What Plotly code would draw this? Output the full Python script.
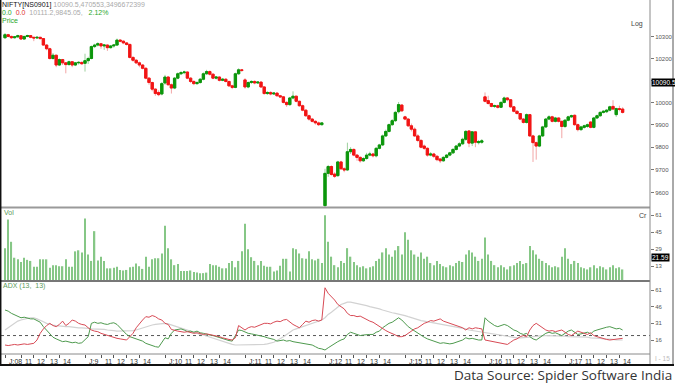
import numpy as np
import plotly.graph_objects as go

# ---------------- data ----------------
day_labels = ["J:08", "J:9", "J:10", "J:11", "J:12", "J:15", "J:16", "J:17"]
hour_labels = ["11", "12", "13", "14"]
hour_bar_offsets = [5, 9, 13, 17]
bars_per_day = 25

opens = [
    [10296, 10310, 10302, 10296, 10300, 10305, 10290, 10302, 10306, 10298, 10295, 10298, 10292, 10262, 10245, 10200, 10215, 10170, 10195, 10180, 10172, 10185, 10170, 10180, 10182],
    [10178, 10190, 10200, 10255, 10262, 10268, 10258, 10262, 10250, 10258, 10262, 10285, 10280, 10272, 10265, 10205, 10192, 10180, 10170, 10155, 10110, 10090, 10060, 10045, 10038],
    [10088, 10115, 10080, 10065, 10110, 10130, 10135, 10138, 10110, 10095, 10085, 10090, 10105, 10130, 10140, 10128, 10110, 10115, 10100, 10105, 10095, 10075, 10068, 10130, 10148],
    [10102, 10070, 10090, 10095, 10088, 10092, 10070, 10040, 10045, 10038, 10042, 10030, 10025, 10000, 9990, 10020, 10028, 10005, 9985, 9965, 9940, 9925, 9915, 9908, 9900],
    [9545, 9685, 9715, 9682, 9675, 9735, 9705, 9700, 9780, 9790, 9765, 9755, 9740, 9750, 9765, 9770, 9762, 9795, 9810, 9850, 9870, 9900, 9918, 9958, 9988],
    [9935, 9925, 9895, 9880, 9850, 9830, 9805, 9795, 9765, 9770, 9760, 9748, 9740, 9755, 9765, 9775, 9790, 9805, 9815, 9835, 9872, 9818, 9868, 9820, 9822],
    [10025, 10008, 9995, 9982, 9985, 9978, 10000, 10020, 10012, 9980, 9960, 9950, 9925, 9910, 9945, 9850, 9820, 9805, 9850, 9890, 9925, 9935, 9915, 9930, 9915],
    [9892, 9920, 9935, 9942, 9900, 9878, 9888, 9892, 9912, 9888, 9930, 9940, 9955, 9958, 9965, 9982, 9945, 9972, 9970],
]
highs = [
    [10318, 10314, 10306, 10304, 10310, 10306, 10305, 10310, 10308, 10300, 10302, 10300, 10294, 10266, 10250, 10225, 10218, 10200, 10198, 10184, 10190, 10188, 10184, 10188, 10186],
    [10222, 10208, 10260, 10268, 10275, 10272, 10266, 10265, 10262, 10266, 10292, 10290, 10284, 10276, 10268, 10210, 10198, 10186, 10174, 10160, 10114, 10094, 10064, 10055, 10092],
    [10125, 10120, 10086, 10115, 10136, 10142, 10144, 10140, 10115, 10100, 10096, 10110, 10136, 10148, 10145, 10132, 10120, 10118, 10110, 10110, 10098, 10080, 10135, 10155, 10152],
    [10110, 10095, 10100, 10100, 10096, 10095, 10074, 10050, 10050, 10046, 10045, 10034, 10028, 10005, 10025, 10050, 10030, 10008, 9990, 9968, 9945, 9930, 9920, 9914, 9912],
    [9705, 9722, 9720, 9690, 9740, 9740, 9712, 9820, 9800, 9795, 9770, 9760, 9756, 9775, 9780, 9775, 9800, 9815, 9856, 9878, 9905, 9925, 9962, 10002, 9992],
    [9940, 9930, 9905, 9888, 9858, 9835, 9812, 9800, 9778, 9775, 9764, 9752, 9760, 9770, 9780, 9796, 9810, 9822, 9842, 9876, 9876, 9872, 9872, 9832, 9836],
    [10045, 10030, 9998, 9990, 9990, 10004, 10026, 10024, 10015, 9984, 9965, 9952, 9930, 9950, 9948, 9855, 9825, 9855, 9895, 9930, 9942, 9940, 9935, 9932, 9918],
    [9925, 9940, 9945, 9946, 9905, 9895, 9900, 9905, 9915, 9935, 9945, 9960, 9965, 9970, 9985, 10010, 9976, 9985, 9978],
]
lows = [
    [10290, 10298, 10290, 10292, 10296, 10286, 10288, 10298, 10294, 10280, 10290, 10288, 10258, 10238, 10195, 10195, 10160, 10165, 10170, 10132, 10168, 10160, 10165, 10172, 10170],
    [10140, 10175, 10196, 10248, 10256, 10245, 10240, 10235, 10246, 10250, 10258, 10275, 10266, 10260, 10200, 10185, 10175, 10160, 10150, 10105, 10080, 10050, 10030, 10028, 10032],
    [10080, 10076, 10040, 10060, 10105, 10124, 10128, 10105, 10088, 10078, 10080, 10085, 10100, 10125, 10122, 10105, 10104, 10095, 10096, 10090, 10070, 10060, 10064, 10125, 10138],
    [10062, 10064, 10084, 10082, 10084, 10065, 10035, 10034, 10032, 10034, 10026, 10020, 9995, 9980, 9985, 10014, 10000, 9980, 9960, 9935, 9918, 9910, 9900, 9894, 9896],
    [9530, 9670, 9675, 9665, 9670, 9700, 9690, 9695, 9770, 9760, 9740, 9732, 9735, 9745, 9760, 9755, 9755, 9790, 9805, 9845, 9865, 9895, 9912, 9950, 9958],
    [9920, 9890, 9870, 9845, 9822, 9795, 9788, 9758, 9760, 9752, 9738, 9730, 9736, 9750, 9760, 9770, 9785, 9800, 9810, 9828, 9800, 9805, 9800, 9812, 9815],
    [10000, 9990, 9978, 9975, 9972, 9975, 9995, 10005, 9975, 9955, 9945, 9920, 9905, 9905, 9845, 9735, 9745, 9800, 9845, 9885, 9920, 9910, 9910, 9910, 9840],
    [9885, 9915, 9930, 9895, 9870, 9872, 9882, 9886, 9884, 9884, 9925, 9935, 9950, 9952, 9960, 9965, 9935, 9960, 9950],
]
closes = [
    [10310, 10302, 10296, 10300, 10305, 10290, 10302, 10306, 10298, 10295, 10298, 10292, 10262, 10245, 10200, 10215, 10170, 10195, 10180, 10172, 10185, 10170, 10180, 10182, 10176],
    [10190, 10200, 10255, 10262, 10268, 10258, 10262, 10250, 10258, 10262, 10285, 10280, 10272, 10265, 10205, 10192, 10180, 10170, 10155, 10110, 10090, 10060, 10040, 10035, 10085],
    [10115, 10080, 10065, 10110, 10130, 10135, 10138, 10110, 10095, 10085, 10090, 10105, 10130, 10140, 10128, 10110, 10115, 10100, 10105, 10095, 10075, 10068, 10130, 10148, 10145],
    [10070, 10090, 10095, 10088, 10092, 10070, 10040, 10045, 10038, 10042, 10030, 10025, 10000, 9990, 10020, 10028, 10005, 9985, 9965, 9940, 9925, 9915, 9908, 9900, 9908],
    [9685, 9715, 9680, 9672, 9735, 9705, 9700, 9780, 9790, 9765, 9755, 9740, 9750, 9765, 9770, 9762, 9795, 9810, 9850, 9870, 9900, 9918, 9955, 9990, 9962],
    [9925, 9895, 9880, 9850, 9830, 9800, 9795, 9765, 9770, 9760, 9745, 9740, 9755, 9765, 9775, 9790, 9805, 9815, 9835, 9870, 9818, 9868, 9822, 9825, 9828],
    [10005, 9995, 9982, 9985, 9978, 10000, 10020, 10012, 9980, 9960, 9950, 9925, 9910, 9945, 9850, 9820, 9805, 9850, 9890, 9925, 9935, 9915, 9930, 9915, 9892],
    [9920, 9935, 9940, 9900, 9878, 9890, 9895, 9900, 9888, 9930, 9940, 9955, 9960, 9965, 9980, 9970, 9972, 9968, 9955],
]
volume = [
    [30, 57, 36, 21, 19.5, 17, 21, 19, 18, 12.5, 12.5, 19.5, 19.5, 19.5, 11.5, 14, 14, 13, 13, 19.5, 12.5, 12.5, 27, 28, 26],
    [58, 24, 18, 46, 18.5, 22, 18, 11, 11, 11.5, 12.5, 9.5, 9, 9.5, 12, 12.5, 15.5, 13, 10.5, 22, 12.5, 19.5, 20.5, 20.5, 25],
    [51, 30, 19.5, 14, 15, 8.5, 8.5, 8.5, 9, 7.5, 7, 6.5, 6.5, 7, 15, 14, 14, 12.5, 11, 11, 16, 18, 12, 18, 27],
    [53, 29, 21.5, 18, 14, 18, 13.5, 12.5, 12.5, 8, 9, 13.5, 20, 20, 8, 30, 29, 25, 20.5, 20, 27, 19.5, 18.5, 20, 16],
    [61, 36, 22, 14, 12, 18, 16, 30, 22, 17, 14, 12, 13, 11, 12, 13, 18, 20, 26, 30, 24, 22, 28, 32, 24],
    [45, 38, 28, 24, 22, 26, 20, 22, 16, 14, 18, 15, 13, 12, 14, 13, 16, 18, 17, 24, 28, 26, 22, 18, 20],
    [40, 24, 18, 14, 12, 14, 12, 10, 13, 14, 16, 18, 15, 16, 32, 28, 24, 20, 18, 16, 14, 12, 13, 12, 22],
    [30, 20, 15, 18, 16, 12, 11, 10, 12, 14, 11, 13, 12, 10, 12, 14, 11, 12, 10],
]
plus_di = [
    [43, 42, 40, 38.5, 37, 36, 36.5, 35.5, 35, 35, 33.5, 32, 28, 25, 22, 18.5, 17, 16, 14.5, 15, 14, 13.5, 14, 13, 13.5],
    [16, 19, 31, 32, 31, 31.5, 30.5, 30, 31, 31.5, 30, 27, 24, 21, 19, 18, 17, 15.5, 15, 13, 12, 10.5, 10, 9.5, 14],
    [18, 17, 22, 25, 25.5, 26, 25, 23.5, 24, 23, 24, 22.5, 22, 21, 20.5, 20, 19, 18, 17, 16, 15.5, 15, 20, 25, 24.5],
    [23, 22, 21.5, 21, 20.5, 20, 19, 18, 17.5, 16.5, 15, 15.5, 16, 15, 15.5, 14.5, 14, 13, 13, 12.5, 12, 11.5, 10, 8.5, 8],
    [7, 9, 11, 12.5, 14.5, 16, 17, 21, 23, 22, 21, 20, 20.5, 21, 21, 21, 23, 24, 27, 29, 31, 32, 34, 36, 34],
    [31, 28, 26, 24, 22, 20, 18.5, 17, 16, 15, 14, 13, 13.5, 13, 12.5, 13, 14, 15, 16, 18, 17, 17.5, 16.5, 16, 16],
    [36, 33, 31, 29, 28, 29, 30, 29, 27, 25, 24, 22, 21, 22, 19, 17, 16, 18, 20, 22, 23, 22, 22.5, 21.5, 20],
    [22, 24, 25, 23, 21, 21.5, 22, 23, 21.5, 24, 25, 26, 27, 27.5, 28, 27, 26, 26.5, 25],
]
minus_di = [
    [11.5, 11, 11.5, 12, 11.5, 12, 12.5, 12, 12.5, 13, 16, 22, 26, 29, 31, 29, 28, 30, 33, 29, 31, 34, 33, 31, 30],
    [29.5, 27, 25, 24, 23.5, 22, 21, 20, 19, 18.5, 17.5, 17, 16.5, 16, 19, 22, 27, 31, 34, 37, 36.5, 38, 37, 35, 34],
    [31, 30, 25.5, 24.5, 24, 23.5, 23, 23.5, 22.5, 22, 22.5, 22, 21, 21.5, 21, 20, 19.5, 19, 18, 17, 16.5, 16, 18, 29, 27],
    [25, 27, 28, 27.5, 28.5, 29.5, 31, 31, 30.5, 32, 33, 32.5, 34, 34.5, 32, 30, 28.5, 27, 30, 33, 32, 33.5, 34, 33, 34],
    [63, 58, 55, 52, 48, 46, 44, 40, 38, 38, 37, 37.5, 36, 34, 33, 32, 30, 28.5, 26, 24.5, 23, 22, 20.5, 19, 19],
    [20, 22, 24, 26, 27, 29, 31, 32, 33.5, 33, 34, 35, 33, 32, 31, 30, 29, 28, 27, 25, 27, 26, 27, 26.5, 26],
    [16, 15.5, 15, 14.5, 14, 13, 12.5, 12, 14, 16, 17, 19, 20, 19, 25, 29, 31, 29, 27, 25, 24, 24.5, 23.5, 24, 25],
    [23, 21, 20, 22, 24, 23, 22, 21, 22.5, 20, 19, 18, 17, 16.5, 16, 16.5, 17, 17, 17.5],
]
adx = [
    [25, 27, 29, 31, 33, 34, 35, 35.5, 36, 36, 35, 34, 32.5, 31, 30, 29.5, 29, 28.5, 28.5, 28, 28, 27.5, 27.5, 27, 27],
    [27, 26.5, 26, 26, 26, 25.5, 25.5, 25, 25, 24.5, 24, 24, 24, 24, 24, 24.5, 25, 26, 27, 28, 29, 29.5, 30, 30.5, 31],
    [31, 30.5, 29.5, 28.5, 27.5, 26.5, 26, 25, 24, 23, 22, 21, 20.5, 19.5, 18.5, 17.5, 16.5, 15.5, 14.5, 13.5, 13, 12, 11.5, 11.5, 11.5],
    [11.5, 11.5, 11.5, 11.5, 11.5, 12, 12, 12.5, 13, 14, 15.5, 17, 19, 21, 23, 25, 26, 27, 28, 29, 30, 31, 32, 33, 34],
    [36, 39, 41, 43.5, 46, 48, 49, 50, 50, 49.5, 49, 48.5, 48, 47, 46, 45.5, 45, 44, 43, 42, 41, 40.5, 40, 39.5, 39],
    [38, 37, 36, 35, 34, 33.5, 33, 32.5, 32, 31.5, 31, 30.5, 30, 29.5, 29, 28.5, 28, 27, 26.5, 26, 25, 24.5, 24, 23.5, 23],
    [22.5, 22, 21.5, 21, 20.5, 20, 19.5, 19, 18.5, 18.5, 18, 18, 18, 18, 18.5, 19, 19.5, 20, 20, 20, 20, 20, 20, 20, 19.5],
    [19.5, 19, 19, 19, 19, 18.5, 18.5, 18.5, 18, 18, 17.5, 17.5, 17, 17, 16.5, 16.5, 16, 16, 16],
]
adx_level = 20
price_ticks = [9600, 9700, 9800, 9900, 10000, 10100, 10200, 10300]
price_tick_text = ["9600", "9700", "9800", "9900", "10000", "", "10200", "10300"]
vol_ticks = [13, 29, 45, 61]
adx_ticks = [16, 31, 46, 61]
last_price_label = "10090.5"
last_vol_label = "21.59"


def flat(lst):
    out = []
    for d in lst:
        out.extend(d)
    return out


o = np.array(flat(opens), float)
h = np.array(flat(highs), float)
l = np.array(flat(lows), float)
c = np.array(flat(closes), float)
v = flat(volume)
pdi = flat(plus_di)
mdi = flat(minus_di)
ax = flat(adx)
n = len(c)
idx = list(range(n))

tickvals, ticktext = [], []
for d, lab in enumerate(day_labels):
    base = d * bars_per_day
    tickvals.append(base)
    ticktext.append(lab)
    for off, hl in zip(hour_bar_offsets, hour_labels):
        tickvals.append(base + off)
        ticktext.append(hl)

# ---------------- figure ----------------
W, H = 675, 386
ML, MR, MT, MB = 1, 25, 1, 32
PW, PH = W - ML - MR, H - MT - MB


def px(x):
    return (x - ML) / PW


def py(y):
    return (H - MB - y) / PH


FONT = "Arial"
fig = go.Figure()

# wicks (pale) + bodies (saturated)
fig.add_trace(go.Candlestick(
    x=idx, open=o, high=h, low=l, close=c, xaxis="x", yaxis="y",
    increasing=dict(line=dict(color="#9ccf9c", width=1), fillcolor="#9ccf9c"),
    decreasing=dict(line=dict(color="#f2a6a6", width=1), fillcolor="#f2a6a6"),
    whiskerwidth=0, hoverinfo="skip", showlegend=False))
fig.add_trace(go.Candlestick(
    x=idx, open=o, high=np.maximum(o, c), low=np.minimum(o, c), close=c,
    xaxis="x", yaxis="y",
    increasing=dict(line=dict(color="#0b960b", width=1), fillcolor="#0b960b"),
    decreasing=dict(line=dict(color="#f21414", width=1), fillcolor="#f21414"),
    whiskerwidth=0, hoverinfo="skip", showlegend=False))

fig.add_trace(go.Bar(x=idx, y=v, width=0.42, marker=dict(color="#86c786", line=dict(width=0)),
                     xaxis="x", yaxis="y2", showlegend=False, hoverinfo="skip"))

fig.add_trace(go.Scatter(x=idx, y=ax, mode="lines", line=dict(color="#d2d2d2", width=1.2),
                         xaxis="x", yaxis="y3", showlegend=False, hoverinfo="skip"))
fig.add_trace(go.Scatter(x=idx, y=pdi, mode="lines", line=dict(color="#4e9a4e", width=1),
                         xaxis="x", yaxis="y3", showlegend=False, hoverinfo="skip"))
fig.add_trace(go.Scatter(x=idx, y=mdi, mode="lines", line=dict(color="#d84a55", width=1),
                         xaxis="x", yaxis="y3", showlegend=False, hoverinfo="skip"))

ytick_common = dict(side="right", ticks="outside", ticklen=3, tickcolor="#777",
                    tickfont=dict(size=6, color="#555", family=FONT),
                    showgrid=False, zeroline=False, showline=False, fixedrange=True)

y_price_bottom = 207.5
y_vol_top, y_vol_bottom = 208, 281
y_adx_top = 282

fig.update_layout(
    width=W, height=H, autosize=False,
    margin=dict(l=ML, r=MR, t=MT, b=MB),
    paper_bgcolor="white", plot_bgcolor="white",
    boxgap=0.15, boxgroupgap=0.15,
    xaxis=dict(domain=[0, 1], anchor="y3", range=[-1.25, 201.56],
               tickvals=tickvals, ticktext=["" for _ in tickvals], ticks="outside", ticklen=3,
               tickcolor="#555", showticklabels=True,
               showgrid=False, zeroline=False, showline=False,
               rangeslider=dict(visible=False), fixedrange=True),
    yaxis=dict(domain=[py(y_price_bottom), 1], anchor="x", type="log",
               range=[np.log10(9537), np.log10(10468)],
               tickvals=price_ticks, ticktext=price_tick_text, **ytick_common),
    yaxis2=dict(domain=[py(y_vol_bottom), py(y_vol_top)], anchor="x", range=[-0.9, 67.8],
                tickvals=vol_ticks, ticktext=[str(t) for t in vol_ticks], **ytick_common),
    yaxis3=dict(domain=[0, py(y_adx_top)], anchor="x", range=[3.4, 68.2],
                tickvals=adx_ticks, ticktext=[str(t) for t in adx_ticks], **ytick_common),
)

shapes = []


def pline(x0, y0, x1, y1, color, width, dash="solid"):
    shapes.append(dict(type="line", xref="paper", yref="paper",
                       x0=px(x0), y0=py(y0), x1=px(x1), y1=py(y1),
                       line=dict(color=color, width=width, dash=dash), layer="above"))


pline(0, y_price_bottom, 650, y_price_bottom, "#9a9a9a", 2)
pline(0, 281, 650, 281, "#777777", 2)
pline(0, 354, 650, 354, "#8a8a8a", 1)
pline(650, 0, 650, 365, "#8a8a8a", 1)
pline(0.7, 0, 0.7, 365, "#111111", 1.5)
pline(673, 0, 673, 365, "#555555", 1)
pline(0, 365, 674, 365, "#111111", 2)
shapes.append(dict(type="line", xref="paper", yref="y3", x0=0, x1=1, y0=adx_level, y1=adx_level,
                   line=dict(color="#555", width=1, dash="dot"), layer="below"))
fig.update_layout(shapes=shapes)

anns = []


def ptext(x, y, text, size=7, color="#333", xanchor="left", family=FONT, bg=None):
    d = dict(xref="paper", yref="paper", x=px(x), y=py(y), text=text, showarrow=False,
             xanchor=xanchor, yanchor="middle", font=dict(size=size, color=color, family=family),
             borderpad=0)
    if bg:
        d["bgcolor"] = bg
    anns.append(d)


# x-axis labels: drawn just to the right of each tick, as in the original
for tv, tt in zip(tickvals, ticktext):
    anns.append(dict(xref="x", yref="paper", x=tv, y=py(361), text=tt, showarrow=False,
                     xanchor="left", yanchor="middle", xshift=1.5,
                     font=dict(size=7, color="#333", family=FONT)))

GREEN_T, RED_T, GRAY_T = "#2aa82a", "#e03030", "#aaaaaa"
ptext(1, 5, "NIFTY[NS0901] <span style='color:%s'>10090.5,470553,3496672399</span>" % GRAY_T,
      size=7, color="#111")
ptext(1, 12.5, "<span style='color:%s'>0.0</span>  <span style='color:%s'>0.0</span>  "
      "<span style='color:%s'>10111.2,9845.05,</span>   <span style='color:%s'>2.12%%</span>"
      % (GREEN_T, RED_T, GRAY_T, GREEN_T), size=7)
ptext(1, 20.5, "Price", size=7, color=GREEN_T)
ptext(644, 24, "Log", size=7, color="#444", xanchor="right")
ptext(3, 212, "Vol", size=7, color="#5a9a5a")
ptext(648, 215, "Cr", size=7, color="#444", xanchor="right")
ptext(2, 285.5, "ADX (13,  13)", size=7, color="#5a9a5a")
ptext(651, 82.5, last_price_label, size=6.5, color="white", bg="black")
ptext(651, 257, last_vol_label, size=6.5, color="white", bg="black")
ptext(671, 359, "I - 15", size=6.5, color="#bbbbbb", xanchor="right")
ptext(673, 375.5, "Data Source: Spider Software India", size=13.5, color="#333",
      xanchor="right", family="Open Sans")
fig.update_layout(annotations=anns)

fig.write_html("out.html", config={"displayModeBar": False})

# remove the default page margin so the figure sits at the window's top-left corner
with open("out.html", "r", encoding="utf-8") as f:
    page = f.read()
page = page.replace("<head>", "<head><style>html,body{margin:0;padding:0;overflow:hidden;}</style>", 1)
with open("out.html", "w", encoding="utf-8") as f:
    f.write(page)
